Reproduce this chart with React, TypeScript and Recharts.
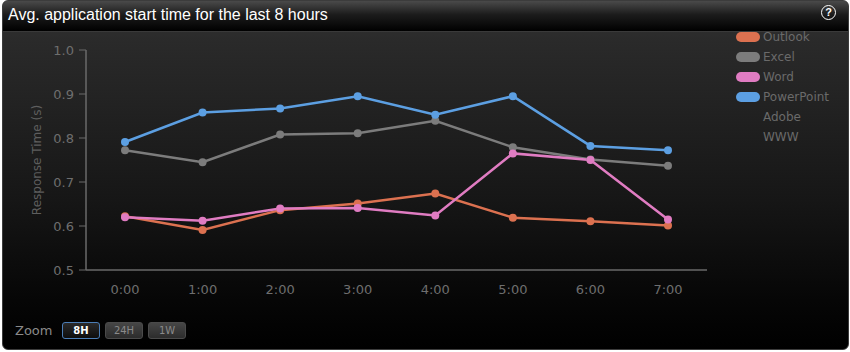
import React from "react";
import { LineChart, Line, XAxis, YAxis } from "recharts";

// hours along the x axis
const hours = ["0:00", "1:00", "2:00", "3:00", "4:00", "5:00", "6:00", "7:00"];

// average start time per application (seconds)
const outlook = [0.622, 0.591, 0.636, 0.651, 0.674, 0.619, 0.611, 0.601];
const excel = [0.772, 0.745, 0.808, 0.811, 0.839, 0.779, 0.751, 0.737];
const word = [0.62, 0.612, 0.64, 0.641, 0.624, 0.765, 0.75, 0.615];
const powerPoint = [0.791, 0.858, 0.867, 0.895, 0.853, 0.895, 0.782, 0.772];

const yTicks = [0.5, 0.6, 0.7, 0.8, 0.9, 1.0];
const zoomOptions = ["8H", "24H", "1W"];

const series = [
  { key: "outlook", name: "Outlook", color: "#dc7150", values: outlook },
  { key: "excel", name: "Excel", color: "#7c7c7c", values: excel },
  { key: "word", name: "Word", color: "#e07cc2", values: word },
  { key: "powerPoint", name: "PowerPoint", color: "#5c9fe2", values: powerPoint },
  { key: "adobe", name: "Adobe", color: null, values: null },
  { key: "www", name: "WWW", color: null, values: null },
];

const chartData = hours.map((hour, i) => {
  const row: Record<string, string | number> = { hour };
  series.forEach((s) => {
    if (s.values) row[s.key] = s.values[i];
  });
  return row;
});

const axisFont = "'DejaVu Sans', Verdana, sans-serif";

const YAxisTitle = (props: any) => {
  const vb = props.viewBox || { x: 20, y: 50, width: 66, height: 220 };
  const cx = vb.x + 17;
  const cy = vb.y + vb.height / 2;
  return (
    <text
      x={cx}
      y={cy}
      transform={`rotate(-90, ${cx}, ${cy})`}
      textAnchor="middle"
      dominantBaseline="central"
      fill="#5e5e5e"
      fontSize={12}
      fontFamily={axisFont}
    >
      Response Time (s)
    </text>
  );
};

export default function App() {
  return (
    <div
      style={{
        position: "relative",
        width: 850,
        height: 352,
        background: "#ffffff",
        overflow: "hidden",
      }}
    >
      <style>{`body{margin:0;background:#fff}`}</style>
      <div
        style={{
          position: "absolute",
          left: 2,
          top: 0,
          width: 845,
          height: 348,
          borderRadius: 6,
          border: "1px solid #3c3c3c",
          background:
            "linear-gradient(to bottom, #363636 0px, #2a2a2a 40px, #161616 200px, #060606 300px, #000000 348px)",
          overflow: "hidden",
        }}
      >
        <div
          style={{
            position: "absolute",
            left: 0,
            top: 0,
            right: 0,
            height: 30,
            background: "linear-gradient(to bottom, #4a4a4a 0%, #1c1c1c 45%, #000000 100%)",
            borderBottom: "1px solid #3a3a3a",
          }}
        />
      </div>
      <div
        style={{
          position: "absolute",
          left: 8,
          top: 5,
          color: "#ffffff",
          fontFamily: "'Liberation Sans', Arial, sans-serif",
          fontSize: 16,
          lineHeight: "20px",
        }}
      >
        Avg. application start time for the last 8 hours
      </div>
      <div
        style={{
          position: "absolute",
          left: 821,
          top: 5,
          width: 13,
          height: 13,
          borderRadius: "50%",
          border: "1.5px solid #ffffff",
          color: "#ffffff",
          fontFamily: "'Liberation Sans', Arial, sans-serif",
          fontWeight: "bold",
          fontSize: 11,
          lineHeight: "13px",
          textAlign: "center",
        }}
      >
        ?
      </div>

      <div style={{ position: "absolute", left: 0, top: 0 }}>
        <LineChart
          width={850}
          height={352}
          data={chartData}
          margin={{ top: 50, right: 143, bottom: 52, left: 20 }}
        >
          <XAxis
            dataKey="hour"
            padding={{ left: 39, right: 39 }}
            tickLine={false}
            tickSize={0}
            tickMargin={15}
            axisLine={{ stroke: "#6a6a6a", strokeWidth: 1.5 }}
            tick={{ fill: "#6e6e6e", fontSize: 13, fontFamily: axisFont }}
            height={30}
          />
          <YAxis
            domain={[0.5, 1.0]}
            ticks={yTicks}
            tickFormatter={(v: number) => v.toFixed(1)}
            width={66}
            tickSize={7}
            tickMargin={5}
            tickLine={{ stroke: "#6a6a6a" }}
            axisLine={{ stroke: "#6a6a6a", strokeWidth: 1.5 }}
            tick={{ fill: "#6e6e6e", fontSize: 13, fontFamily: axisFont }}
            label={<YAxisTitle />}
          />
          {series
            .filter((s) => s.values)
            .map((s) => (
              <Line
                key={s.key}
                type="linear"
                dataKey={s.key}
                name={s.name}
                stroke={s.color as string}
                strokeWidth={2.5}
                dot={{ r: 4, fill: s.color as string, stroke: s.color as string, strokeWidth: 0 }}
                activeDot={false}
                isAnimationActive={false}
              />
            ))}
        </LineChart>
      </div>

      {/* legend */}
      <div style={{ position: "absolute", left: 736, top: 27 }}>
        {series.map((s) => (
          <div
            key={s.key}
            style={{ display: "flex", alignItems: "center", height: 20 }}
          >
            <div
              style={{
                width: 24,
                height: 10,
                borderRadius: 5,
                background: s.color || "transparent",
                marginRight: 3,
              }}
            />
            <span
              style={{
                color: "#6a6a6a",
                fontFamily: axisFont,
                fontSize: 12,
              }}
            >
              {s.name}
            </span>
          </div>
        ))}
      </div>

      {/* zoom buttons */}
      <div
        style={{
          position: "absolute",
          left: 15,
          top: 321,
          height: 18,
          display: "flex",
          alignItems: "center",
          fontFamily: axisFont,
        }}
      >
        <span style={{ color: "#8a8a8a", fontSize: 13, width: 47 }}>Zoom</span>
        {zoomOptions.map((z, i) => (
          <div
            key={z}
            style={{
              boxSizing: "border-box",
              width: 38,
              height: 17,
              marginRight: 5,
              borderRadius: 3,
              border: i === 0 ? "1.5px solid #4b7db5" : "1px solid #4a4a4a",
              background:
                i === 0
                  ? "linear-gradient(to bottom, #2a2a2a, #0e0e0e)"
                  : "linear-gradient(to bottom, #464646, #2c2c2c)",
              color: i === 0 ? "#ffffff" : "#8a8a8a",
              fontSize: 10,
              fontWeight: i === 0 ? "bold" : "normal",
              lineHeight: "15px",
              textAlign: "center",
            }}
          >
            {z}
          </div>
        ))}
      </div>
    </div>
  );
}
